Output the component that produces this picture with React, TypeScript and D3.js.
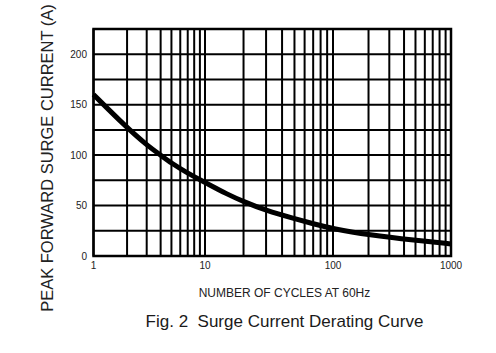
import React, { useRef, useEffect } from 'react';
import * as d3 from 'd3';

// values
const cycles = [1, 2, 3, 4, 5, 7, 10, 15, 20, 30, 50, 70, 100, 200, 500, 1000];
const current = [160, 127, 110, 100, 92, 82, 73, 61, 54, 45, 37, 32, 27, 21, 15.5, 12];

const xTickValues = [1, 10, 100, 1000];
const yTickValues = [0, 50, 100, 150, 200];
const yGridValues = [0, 25, 50, 75, 100, 125, 150, 175, 200, 225];

const WIDTH = 496;
const HEIGHT = 353;
const FONT = 'Liberation Sans, Arial, sans-serif';

const App: React.FC = () => {
  const svgRef = useRef<SVGSVGElement>(null);

  useEffect(() => {
    if (!svgRef.current) return;
    const svg = d3.select(svgRef.current);
    svg.selectAll('*').remove();

    // the decades in the original are not all the same width
    const x = d3.scaleLog().domain([1, 10, 100, 1000]).range([93.5, 205, 333, 451]);
    const y = d3.scaleLinear().domain([0, 225]).range([256, 29]);

    // minor + major vertical grid
    const xGrid: number[] = [];
    for (const dec of [1, 10, 100]) {
      for (let k = 1; k <= 9; k++) xGrid.push(dec * k);
    }
    xGrid.push(1000);

    const grid = svg.append('g');
    grid
      .selectAll('line.v')
      .data(xGrid)
      .enter()
      .append('line')
      .attr('x1', (d) => x(d))
      .attr('x2', (d) => x(d))
      .attr('y1', y(225))
      .attr('y2', y(0))
      .attr('stroke', '#000')
      .attr('stroke-width', 2);

    grid
      .selectAll('line.h')
      .data(yGridValues)
      .enter()
      .append('line')
      .attr('x1', x(1))
      .attr('x2', x(1000))
      .attr('y1', (d) => y(d))
      .attr('y2', (d) => y(d))
      .attr('stroke', '#000')
      .attr('stroke-width', 2);

    // border
    svg
      .append('rect')
      .attr('x', x(1))
      .attr('y', y(225))
      .attr('width', x(1000) - x(1))
      .attr('height', y(0) - y(225))
      .attr('fill', 'none')
      .attr('stroke', '#000')
      .attr('stroke-width', 2.5);

    // derating curve
    const line = d3
      .line<number>()
      .x((d) => x(cycles[d]))
      .y((d) => y(current[d]))
      .curve(d3.curveBasis);

    svg
      .append('path')
      .attr('d', line(d3.range(cycles.length)))
      .attr('fill', 'none')
      .attr('stroke', '#000')
      .attr('stroke-width', 5)
      .attr('stroke-linecap', 'butt');

    // tick labels
    svg
      .selectAll('text.yt')
      .data(yTickValues)
      .enter()
      .append('text')
      .attr('x', 87)
      .attr('y', (d) => y(d))
      .attr('dy', '0.35em')
      .attr('text-anchor', 'end')
      .attr('font-family', FONT)
      .attr('font-size', 10)
      .attr('fill', '#222')
      .text((d) => d);

    svg
      .selectAll('text.xt')
      .data(xTickValues)
      .enter()
      .append('text')
      .attr('x', (d) => x(d))
      .attr('y', 269)
      .attr('text-anchor', 'middle')
      .attr('font-family', FONT)
      .attr('font-size', 10)
      .attr('fill', '#222')
      .text((d) => d);

    // axis titles
    svg
      .append('text')
      .attr('x', 284.5)
      .attr('y', 297)
      .attr('text-anchor', 'middle')
      .attr('font-family', FONT)
      .attr('font-size', 12)
      .attr('fill', '#222')
      .text('NUMBER OF CYCLES AT 60Hz');

    svg
      .append('text')
      .attr('transform', 'translate(52.5, 158) rotate(-90)')
      .attr('text-anchor', 'middle')
      .attr('font-family', FONT)
      .attr('font-size', 16.5)
      .attr('fill', '#222')
      .text('PEAK FORWARD SURGE CURRENT (A)');

    svg
      .append('text')
      .attr('x', 284.5)
      .attr('y', 327)
      .attr('text-anchor', 'middle')
      .attr('font-family', FONT)
      .attr('font-size', 17)
      .attr('fill', '#1a1a1a')
      .style('white-space', 'pre')
      .text('Fig. 2  Surge Current Derating Curve');
  }, []);

  return (
    <svg
      ref={svgRef}
      width={WIDTH}
      height={HEIGHT}
      style={{ position: 'absolute', left: 0, top: 0, background: '#fff' }}
    />
  );
};

export default App;
